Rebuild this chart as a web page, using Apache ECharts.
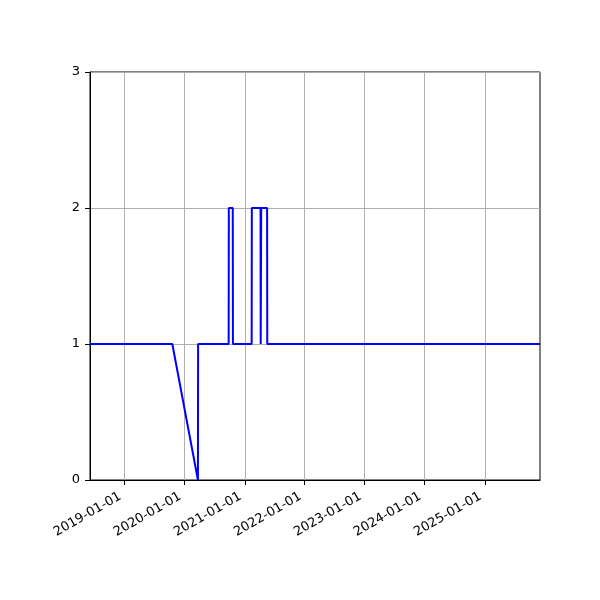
<!DOCTYPE html>
<html><head><meta charset="utf-8">
<script src="https://cdn.jsdelivr.net/npm/echarts@6/dist/echarts.min.js"></script>
<style>html,body{margin:0;padding:0;background:#fff}#c{width:600px;height:600px}</style>
</head><body><div id="c"></div>
<script>
const dates = ['2018-06-04','2019-10-18','2020-03-22','2020-03-23','2020-09-25','2020-09-26','2020-10-20','2020-10-21','2021-02-12','2021-02-13','2021-04-07','2021-04-08','2021-04-10','2021-04-11','2021-05-17','2021-05-18','2025-12-03'];
const values = [1,1,0,1,1,2,2,1,1,2,2,1,1,2,2,1,1];
const xTickLabels = ['2019-01-01','2020-01-01','2021-01-01','2022-01-01','2023-01-01','2024-01-01','2025-01-01'];
const yTicks = [0,1,2,3];
const xMin = '2018-06-04', xMax = '2025-12-03';

const ts = s => Date.parse(s + 'T00:00:00Z');
const tickVals = xTickLabels.map(ts);
const pad = n => String(n).padStart(2,'0');
const fmt = v => { const d = new Date(v); return d.getUTCFullYear()+'-'+pad(d.getUTCMonth()+1)+'-'+pad(d.getUTCDate()); };

const chart = echarts.init(document.getElementById('c'), null, {renderer:'canvas'});
chart.setOption({
  animation:false,
  grid:{left:90,right:60,top:72,bottom:120,show:true,borderColor:'#000',borderWidth:1,backgroundColor:'transparent'},
  xAxis:{
    type:'value', min:ts(xMin), max:ts(xMax),
    axisLine:{show:true,lineStyle:{color:'#000',width:1}},
    axisTick:{show:true,length:5,lineStyle:{color:'#000'},customValues:tickVals},
    axisLabel:{customValues:tickVals,formatter:fmt,rotate:30,color:'#000',fontSize:13,fontFamily:'DejaVu Sans',margin:13,padding:[0,5,0,0]},
    splitLine:{show:true,lineStyle:{color:'#b0b0b0',width:1}}
  },
  yAxis:{
    type:'value', min:yTicks[0], max:yTicks[yTicks.length-1], interval:1,
    axisLine:{show:true,lineStyle:{color:'#000',width:1}},
    axisTick:{show:true,length:5,lineStyle:{color:'#000'}},
    axisLabel:{color:'#000',fontSize:13,fontFamily:'DejaVu Sans',margin:10},
    splitLine:{show:true,lineStyle:{color:'#b0b0b0',width:1}}
  },
  series:[{
    type:'line', showSymbol:false, symbol:'none',
    data: dates.map((d,i)=>[ts(d), values[i]]),
    lineStyle:{color:'#0000ff',width:2},
    clip:true
  }]
});
</script></body></html>
